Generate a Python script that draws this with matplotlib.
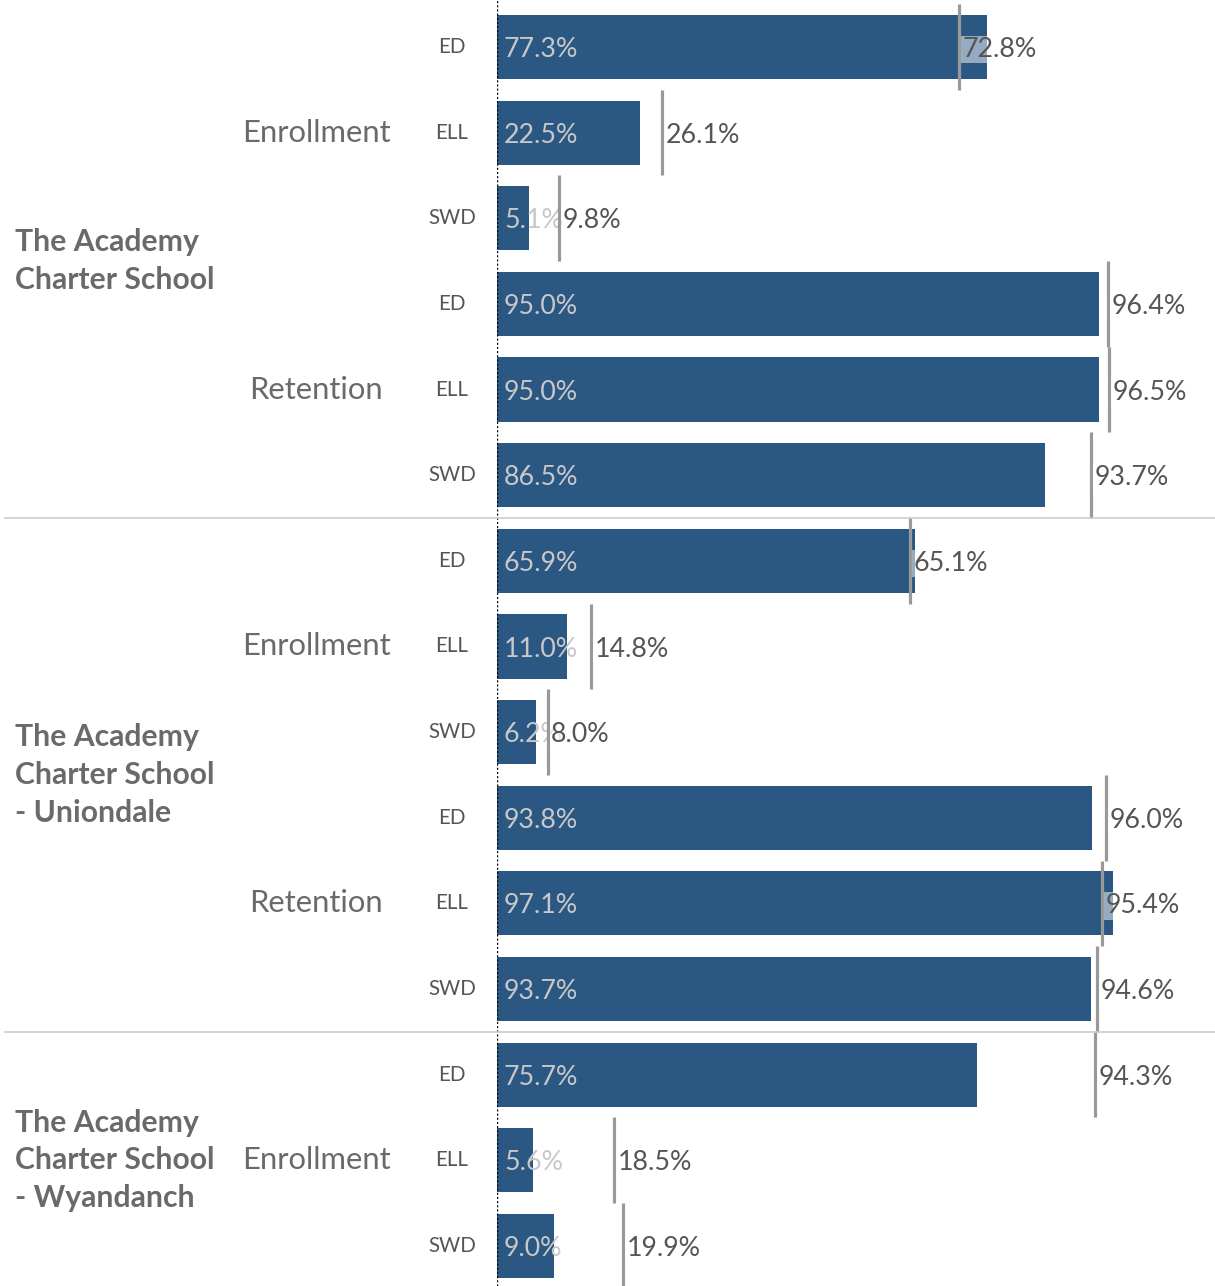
import matplotlib.pyplot as plt
import matplotlib.transforms as mtransforms
from matplotlib.lines import Line2D

plt.rcParams['font.family'] = ['Lato', 'DejaVu Sans']

# data, one entry per bar row (top to bottom)
schools = ["The Academy\nCharter School",
           "The Academy\nCharter School\n- Uniondale",
           "The Academy\nCharter School\n- Wyandanch"]
school_rows = [6, 6, 3]
measures = ["Enrollment", "Retention", "Enrollment", "Retention", "Enrollment"]
subgroups = ["ED", "ELL", "SWD"] * 5
school_pct = [77.3, 22.5, 5.1, 95.0, 95.0, 86.5,
              65.9, 11.0, 6.2, 93.8, 97.1, 93.7,
              75.7, 5.6, 9.0]
compare_pct = [72.8, 26.1, 9.8, 96.4, 96.5, 93.7,
               65.1, 14.8, 8.0, 96.0, 95.4, 94.6,
               94.3, 18.5, 19.9]

bar_color = "#2b5783"
ref_color = "#999999"

fig = plt.figure(figsize=(12.15, 12.86), dpi=100)
ax = fig.add_axes([497 / 1215, 0, 1 - 497 / 1215, 1])
px = 6.34  # pixels per percent
ax.set_xlim(0, (1215 - 497) / px)
ax.set_ylim(14.468, -0.549)
ax.axis("off")

rows = range(len(school_pct))
ax.barh(list(rows), school_pct, height=0.75, color=bar_color, zorder=2)
ax.vlines(compare_pct, [r - 0.5 for r in rows], [r + 0.5 for r in rows],
          color=ref_color, lw=2.3, zorder=4)

for r in rows:
    ax.text(1.1, r + 0.03, f"{school_pct[r]:.1f}%", color="#c8c8c8", fontsize=19.3,
            va="center", ha="left", zorder=3)
    ax.text(compare_pct[r] + 0.55, r + 0.03, f"{compare_pct[r]:.1f}%", color="#555555",
            fontsize=19.3, va="center", ha="left", zorder=5,
            bbox=dict(facecolor="white", alpha=0.5, edgecolor="none", pad=1))

ax.axvline(0, color="black", lw=1, linestyle=(0, (1.5, 1.5)), zorder=6)

# left-side labels
lab = mtransforms.blended_transform_factory(fig.transFigure, ax.transData)
for r in rows:
    ax.text(452 / 1215, r, subgroups[r], transform=lab, fontsize=14.8,
            color="#555555", ha="center", va="center")

for k, m in enumerate(measures):
    ax.text(316 / 1215, 3 * k + 1, m, transform=lab, fontsize=22.3,
            color="#6a6a6a", ha="center", va="center")

start = 0
for name, n in zip(schools, school_rows):
    ax.text(15 / 1215, start + (n - 1) / 2, name, transform=lab, fontsize=21.7,
            fontweight="bold", color="#6a6a6a", ha="left", va="center",
            linespacing=1.42)
    start += n
    if start < len(school_pct):
        fig.add_artist(Line2D([5 / 1215, 1], [start - 0.5, start - 0.5],
                              transform=lab, color="#cccccc", lw=1.2))

fig.savefig("out.png", dpi=100)
